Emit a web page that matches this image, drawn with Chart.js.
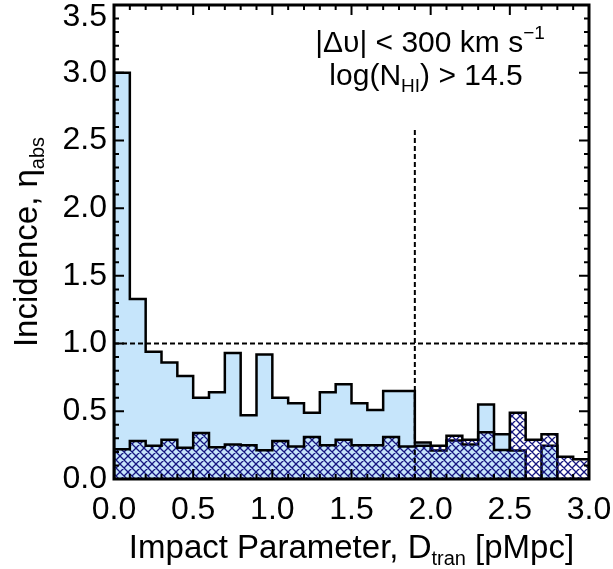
<!DOCTYPE html>
<html>
<head>
<meta charset="utf-8">
<script src="https://cdn.jsdelivr.net/npm/chart.js@4.4.1/dist/chart.umd.min.js"></script>
<style>
  html, body { margin: 0; padding: 0; background: #ffffff; }
  canvas { display: block; }
</style>
</head>
<body>
<canvas id="c" width="613" height="569"></canvas>
<script>
// Left edges of the 0.1 pMpc impact-parameter bins
const binStarts = [0.0, 0.1, 0.2, 0.3, 0.4, 0.5, 0.6, 0.7, 0.8, 0.9,
                   1.0, 1.1, 1.2, 1.3, 1.4, 1.5, 1.6, 1.7, 1.8, 1.9,
                   2.0, 2.1, 2.2, 2.3, 2.4, 2.5, 2.6, 2.7, 2.8, 2.9];
const binWidth = 0.1;

// Incidence of absorbers near the target galaxies (light blue histogram)
const incidenceNear = [3.00, 1.33, 0.94, 0.86, 0.76, 0.60, 0.64, 0.93, 0.47, 0.92,
                       0.60, 0.56, 0.49, 0.64, 0.70, 0.56, 0.51, 0.65, 0.65, 0.27,
                       0.21, 0.285, 0.255, 0.55, 0.33, 0.21, 0.00, 0.245, 0.00, 0.00];

// Incidence of absorbers around random positions (cross-hatched histogram)
const incidenceRandom = [0.22, 0.28, 0.245, 0.29, 0.23, 0.34, 0.235, 0.255, 0.25, 0.213,
                         0.28, 0.24, 0.31, 0.25, 0.29, 0.25, 0.25, 0.31, 0.24, 0.245,
                         0.245, 0.32, 0.29, 0.345, 0.215, 0.49, 0.29, 0.33, 0.165, 0.145];

// Axis tick labels
const xTickLabels = ['0.0', '0.5', '1.0', '1.5', '2.0', '2.5', '3.0'];
const yTickLabels = ['0.0', '0.5', '1.0', '1.5', '2.0', '2.5', '3.0', '3.5'];

// Reference lines: unit incidence and the transverse distance limit
const unitIncidence = 1.0;
const distanceLimit = 1.9;
const distanceLineTop = 2.6;

const FONT = '"Liberation Sans", Arial, Helvetica, sans-serif';
const TICK_SIZE = 32;
const TITLE_SIZE = 33;
const NOTE_SIZE = 30;

// Turn bin values into a closed step outline
function stepPoints(values) {
  const last = values.length - 1;
  const end = Math.round((binStarts[last] + binWidth) * 10) / 10;
  const pts = [{ x: binStarts[0], y: 0 }];
  values.forEach((v, i) => pts.push({ x: binStarts[i], y: v }));
  pts.push({ x: end, y: values[last] });
  pts.push({ x: end, y: 0 });
  return pts;
}

const canvas = document.getElementById('c');
const ctx0 = canvas.getContext('2d');

// Navy cross-hatch fill
const hatch = (() => {
  const t = document.createElement('canvas');
  t.width = 8; t.height = 8;
  const g = t.getContext('2d');
  g.strokeStyle = '#16167f';
  g.lineWidth = 1.3;
  g.beginPath();
  for (let k = -8; k <= 8; k += 8) {
    g.moveTo(k, 0); g.lineTo(k + 8, 8);
    g.moveTo(k, 8); g.lineTo(k + 8, 0);
  }
  g.stroke();
  return ctx0.createPattern(t, 'repeat');
})();

// Text with sub/superscript pieces
function richText(ctx, parts, cx, baseY, size) {
  const fontFor = p => `${(p.sub || p.sup) ? Math.round(size * 0.62) : size}px ${FONT}`;
  let total = 0;
  const widths = parts.map(p => {
    ctx.font = fontFor(p);
    const w = ctx.measureText(p.t).width;
    total += w;
    return w;
  });
  let x = cx - total / 2;
  ctx.textAlign = 'left';
  ctx.textBaseline = 'alphabetic';
  parts.forEach((p, i) => {
    ctx.font = fontFor(p);
    const dy = p.sub ? size * 0.22 : (p.sup ? -size * 0.42 : 0);
    ctx.fillText(p.t, x, baseY + dy);
    x += widths[i];
  });
}

const framePlugin = {
  id: 'frame',
  afterDatasetsDraw(chart) {
    const { ctx, chartArea: a, scales: { x, y } } = chart;
    ctx.save();
    ctx.strokeStyle = '#000';
    ctx.lineCap = 'butt';

    // minor and major ticks on all four sides, pointing inwards
    ctx.lineWidth = 2;
    ctx.beginPath();
    for (let k = 0; k <= 30; k++) {
      const px = x.getPixelForValue(k / 10);
      const len = (k % 5 === 0) ? 10 : 5;
      ctx.moveTo(px, a.bottom); ctx.lineTo(px, a.bottom - len);
      ctx.moveTo(px, a.top); ctx.lineTo(px, a.top + len);
    }
    for (let k = 0; k <= 35; k++) {
      const py = y.getPixelForValue(k / 10);
      const len = (k % 5 === 0) ? 10 : 5;
      ctx.moveTo(a.left, py); ctx.lineTo(a.left + len, py);
      ctx.moveTo(a.right, py); ctx.lineTo(a.right - len, py);
    }
    ctx.stroke();

    // plot box
    ctx.lineWidth = 3;
    ctx.strokeRect(a.left, a.top, a.right - a.left, a.bottom - a.top);

    ctx.fillStyle = '#000';
    // selection criteria
    richText(ctx, [{ t: '|\u0394\u03C5| < 300 km s' }, { t: '\u22121', sup: true }], 430, 52, NOTE_SIZE);
    richText(ctx, [{ t: 'log(N' }, { t: 'HI', sub: true }, { t: ') > 14.5' }], 426, 85, NOTE_SIZE);

    // axis titles
    richText(ctx, [{ t: 'Impact Parameter, D' }, { t: 'tran', sub: true }, { t: ' [pMpc]' }],
      (a.left + a.right) / 2, 558, TITLE_SIZE);
    ctx.translate(37, (a.top + a.bottom) / 2);
    ctx.rotate(-Math.PI / 2);
    richText(ctx, [{ t: 'Incidence, \u03B7' }, { t: 'abs', sub: true }], 0, 0, TITLE_SIZE);
    ctx.restore();
  }
};

const stepStyle = {
  stepped: 'before',
  pointRadius: 0,
  borderColor: '#000000',
  borderWidth: 2.5,
  fill: 'origin',
  tension: 0
};

const dashStyle = {
  pointRadius: 0,
  borderColor: '#000000',
  borderWidth: 2,
  borderDash: [5, 3],
  fill: false,
  tension: 0
};

new Chart(canvas, {
  type: 'line',
  data: {
    datasets: [
      Object.assign({ data: [{ x: 0, y: unitIncidence }, { x: 3, y: unitIncidence }] }, dashStyle),
      Object.assign({ data: [{ x: distanceLimit, y: 0 }, { x: distanceLimit, y: distanceLineTop }] }, dashStyle),
      Object.assign({ data: stepPoints(incidenceRandom), backgroundColor: hatch }, stepStyle),
      Object.assign({ data: stepPoints(incidenceNear), backgroundColor: '#c6e5fb' }, stepStyle)
    ]
  },
  options: {
    responsive: false,
    animation: false,
    devicePixelRatio: 1,
    layout: { padding: { top: 5, right: 24, left: 0, bottom: 0 } },
    plugins: { legend: { display: false }, tooltip: { enabled: false } },
    scales: {
      x: {
        type: 'linear',
        min: 0, max: 3,
        grid: { display: false, drawTicks: false },
        border: { display: false },
        ticks: {
          stepSize: 0.5,
          maxRotation: 0,
          autoSkip: false,
          padding: 12,
          color: '#000',
          font: { family: FONT, size: TICK_SIZE },
          callback: (v) => xTickLabels[Math.round(v * 2)]
        },
        afterFit(s) { s.height = 90; s.paddingLeft = 0; s.paddingRight = 0; }
      },
      y: {
        type: 'linear',
        min: 0, max: 3.5,
        grid: { display: false, drawTicks: false },
        border: { display: false },
        ticks: {
          stepSize: 0.5,
          autoSkip: false,
          padding: 7,
          color: '#000',
          font: { family: FONT, size: TICK_SIZE, lineHeight: 0.75 },
          // the topmost label sits just inside the canvas, below its tick
          callback: (v) => {
            const i = Math.round(v * 2);
            return i === yTickLabels.length - 1 ? ['', yTickLabels[i]] : yTickLabels[i];
          }
        },
        afterFit(s) { s.width = 114; s.paddingTop = 0; s.paddingBottom = 0; }
      }
    }
  },
  plugins: [framePlugin]
});
</script>
</body>
</html>
